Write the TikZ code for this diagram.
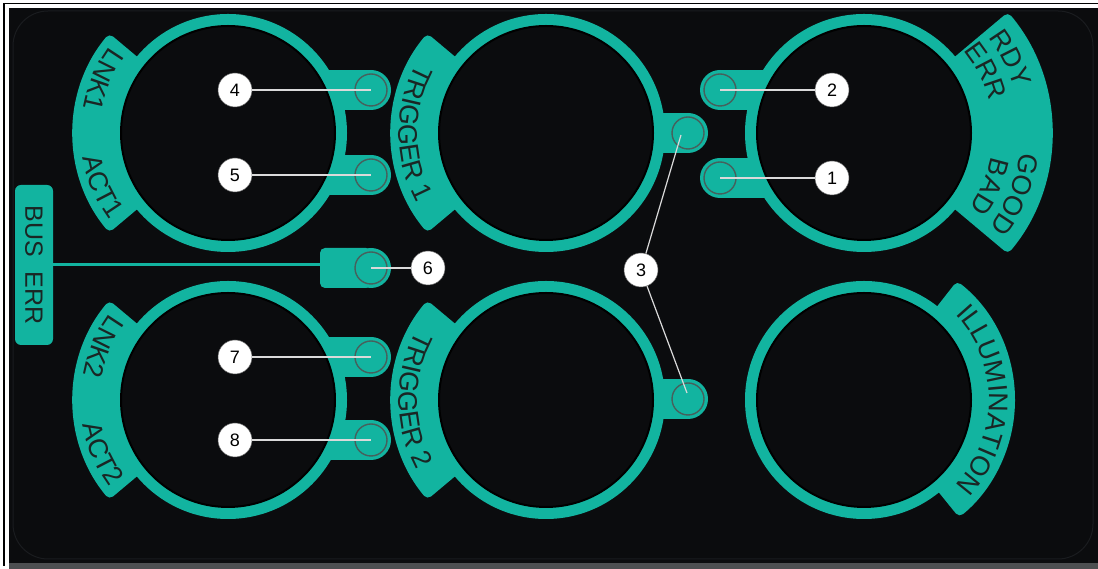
\documentclass[tikz,border=0pt]{standalone}
\usepackage{fontspec}
\setmainfont{Liberation Sans}
\newfontfamily\bandfont{Liberation Sans}
\usetikzlibrary{decorations.text,calc}
\definecolor{tealc}{HTML}{12B4A0}
\definecolor{panel}{HTML}{0B0C0E}
\definecolor{bandtxt}{HTML}{1A2624}
\definecolor{ledline}{HTML}{46605C}
\definecolor{leadc}{HTML}{DADADA}
\definecolor{framegray}{HTML}{4D4F51}
\definecolor{paneledge}{HTML}{1A1C1F}
\newcommand\bandsector[4]{%
  \fill[tealc, rounded corners=5pt] ($(#1)+(#2:110)$) -- ($(#1)+(#2:#4)$)
    arc[start angle=#2, end angle=#3, radius=#4] -- ($(#1)+(#3:110)$) -- cycle;}
\newcommand\arctext[6]{%
  \path[decorate, decoration={text along path, text align=center,
    text={|\bandfont\fontsize{#6}{#6}\selectfont\color{bandtxt}|#5}}]
    ($(#1)+(#3:#2)$) arc[start angle=#3, end angle=#4, radius=#2];}
\newcommand\tabpad[3]{% from x=#1 to LED x=#2 at y=#3
  \fill[tealc] (#1,#3-20) rectangle (#2,#3+20);
  \fill[tealc] (#2,#3) circle (20);}
\begin{document}
\begin{tikzpicture}[x=1pt,y=1pt,
  hole/.style={fill=panel, draw=black, line width=2pt},
  led/.style={circle, fill=tealc, draw=ledline, line width=1.4pt, minimum size=32pt, inner sep=0pt},
  callout/.style={circle, fill=white, draw=black!60, line width=0.5pt, minimum size=34pt, inner sep=0pt, font=\fontsize{18}{18}\selectfont},
  leader/.style={draw=leadc, line width=1.2pt},
  busbox/.style={fill=tealc, rounded corners=6pt, minimum width=160pt, minimum height=38pt, inner sep=0pt, text=bandtxt, font=\fontsize{25}{25}\selectfont},
]
\useasboundingbox (0,0) rectangle (1098,569);
% frame and panel
\fill[white] (0,0) rectangle (1098,569);
\fill[panel] (9,6) rectangle (1098,561);
\fill[framegray] (9,0) rectangle (1098,6);
\draw[black, line width=1.2pt] (4,3) -- (4,565.5) -- (1098,565.5);
\draw[paneledge, line width=1pt, rounded corners=35pt] (13,10) rectangle (1093,558);

% centres
\coordinate (C1) at (228,436);
\coordinate (C2) at (546,436);
\coordinate (C3) at (864,436);
\coordinate (C4) at (228,169);
\coordinate (C5) at (546,169);
\coordinate (C6) at (864,169);

% label bands
\bandsector{C1}{140}{220}{155}
\bandsector{C4}{140}{220}{155}
\bandsector{C2}{140}{220}{155}
\bandsector{C5}{140}{220}{155}
\bandsector{C3}{40}{-40}{188}
\bandsector{C6}{52}{-51}{151}

% pads
\tabpad{300}{371}{479}
\tabpad{300}{371}{394}
\tabpad{300}{371}{212}
\tabpad{300}{371}{129}
\tabpad{640}{688}{436}
\tabpad{640}{688}{170}
\tabpad{790}{720}{479}
\tabpad{790}{720}{391}
\fill[tealc, rounded corners=5pt] (320,281) rectangle (371,321);
\fill[tealc] (371,301) circle (20);

% rings and holes
\foreach \c in {C1,C2,C3,C4,C5,C6}{
  \fill[tealc] (\c) circle (119);
  \filldraw[hole] (\c) circle (107);
}

% band texts
\arctext{C1}{147}{132}{182}{LNK1}{27}
\arctext{C1}{147}{178}{228}{ACT1}{27}
\arctext{C4}{147}{132}{182}{LNK2}{27}
\arctext{C4}{147}{178}{228}{ACT2}{27}
\arctext{C2}{147}{130}{230}{TRIGGER 1}{27}
\arctext{C5}{147}{130}{230}{TRIGGER 2}{27}
\arctext{C3}{157}{52}{2}{RDY}{27}
\arctext{C3}{129}{52}{2}{ERR}{27}
\arctext{C3}{157}{3}{-47}{GOOD}{27}
\arctext{C3}{129}{2}{-48}{BAD}{27}
\arctext{C6}{125}{60}{-60}{ILLUMINATION}{27}

% BUS ERR
\node[busbox, rotate=-90] (bus) at (34,304) {BUS\hspace{15pt}ERR};
\coordinate (T6) at (322,304);
\draw[tealc, line width=3pt] (bus.north) -- (T6);

% LEDs
\node[led] (L4) at (371,479) {};
\node[led] (L5) at (371,394) {};
\node[led] (L6) at (371,301) {};
\node[led] (L7) at (371,212) {};
\node[led] (L8) at (371,129) {};
\node[led] (L3a) at (688,436) {};
\node[led] (L3b) at (688,170) {};
\node[led] (L2) at (720,479) {};
\node[led] (L1) at (720,391) {};
\coordinate (P3a) at (681,434);
\coordinate (P3b) at (687,176);

% callouts
\node[callout] (n4) at (235,479) {4};
\node[callout] (n5) at (235,394) {5};
\node[callout] (n6) at (428,301) {6};
\node[callout] (n7) at (235,212) {7};
\node[callout] (n8) at (235,129) {8};
\node[callout] (n3) at (641,299) {3};
\node[callout] (n2) at (832,479) {2};
\node[callout] (n1) at (832,391) {1};

% leaders
\draw[leader] (n4) -- (L4.center);
\draw[leader] (n5) -- (L5.center);
\draw[leader] (n6) -- (L6.center);
\draw[leader] (n7) -- (L7.center);
\draw[leader] (n8) -- (L8.center);
\draw[leader] (n2) -- (L2.center);
\draw[leader] (n1) -- (L1.center);
\draw[leader] (n3) -- (P3a);
\draw[leader] (n3) -- (P3b);
\end{tikzpicture}
\end{document}
